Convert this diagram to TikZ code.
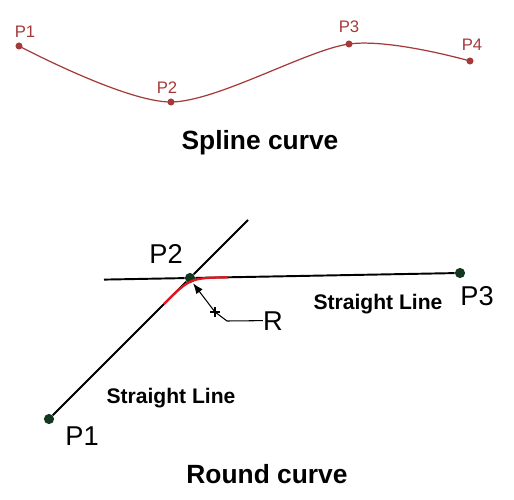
\documentclass[tikz,border=0pt]{standalone}
\usepackage{fontspec}
\setmainfont{Liberation Sans}
\usepackage{tikz}
\usetikzlibrary{arrows.meta, positioning, calc}
\definecolor{splinered}{HTML}{A53A3A}
\definecolor{dotgreen}{HTML}{12381F}
\definecolor{filletred}{HTML}{E3141C}

\begin{document}
\begin{tikzpicture}[
  x=0.02cm, y=-0.02cm,
  every node/.style={inner sep=0pt},
  spt/.style={circle, fill=splinered, minimum size=4pt},
  splabel/.style={text=splinered, font=\fontsize{9.5}{11}\selectfont, anchor=base},
  spline/.style={draw=splinered, line width=0.7pt},
  bpt/.style={circle, fill=dotgreen, minimum size=5.8pt},
  blabel/.style={font=\fontsize{15.5}{18}\selectfont, anchor=base},
  straight/.style={draw=black, line width=1.1pt},
  fillet/.style={draw=filletred, line width=1.3pt},
  leader/.style={draw=black, line width=0.6pt},
  caption/.style={font=\fontsize{15}{18}\selectfont\bfseries, anchor=base},
  llabel/.style={font=\fontsize{12}{14}\selectfont\bfseries, anchor=base}
]
\useasboundingbox (0,0) rectangle (514,500);

% spline curve
\node[spt] (s1) at (19,46) {};
\node[spt] (s2) at (171,102) {};
\node[spt] (s3) at (349,44) {};
\node[spt] (s4) at (470,61) {};
\draw[spline] plot[smooth, tension=0.5] coordinates {(s1.center) (s2.center) (s3.center) (s4.center)};
\node[splabel] (sl1) at (25,38) {P1};
\node[splabel] (sl2) at (167,93) {P2};
\node[splabel] (sl3) at (349,33) {P3};
\node[splabel] (sl4) at (472,51) {P4};
\node[caption] (spcap) at (260,150) {Spline curve};

% round curve
\node[bpt] (b1) at (49,419) {};
\node[bpt] (b2) at (190,278) {};
\node[bpt] (b3) at (460,273) {};
\coordinate (dtop) at (248,220);
\coordinate (hstart) at (104,279.6);
\draw[straight] (b1) -- (b2);
\draw[straight] (b2) -- (dtop);
\draw[straight] (hstart) -- (b2);
\draw[straight] (b2) -- (b3);

\coordinate (f1) at ($(b2)!0.74cm!(b1)$);
\coordinate (f2) at ($(b2)!0.76cm!(b3)$);
\draw[fillet] (f1) .. controls (b2.center) .. (f2) coordinate[pos=0.5] (fmid);

\coordinate (cross) at (215,312);
\coordinate (knee) at (227,321);
\node[blabel] (rlab) at (273,330) {R};
\draw[leader, -{Latex[length=6pt,width=4.5pt]}, shorten >=1.5pt] (cross) -- (fmid);
\draw[leader] ($(cross)+(-5,0)$) -- ($(cross)+(5,0)$) ($(cross)+(0,-5)$) -- ($(cross)+(0,5)$);
\draw[leader] (cross) -- (knee) -- (rlab.west);

\node[blabel] (bl1) at (82,445) {P1};
\node[blabel] (bl2) at (166,263) {P2};
\node[blabel] (bl3) at (477,305) {P3};
\node[llabel] (line1) at (378,309) {Straight Line};
\node[llabel] (line2) at (171,403) {Straight Line};
\node[caption] (rcap) at (267,483) {Round curve};

\end{tikzpicture}
\end{document}
